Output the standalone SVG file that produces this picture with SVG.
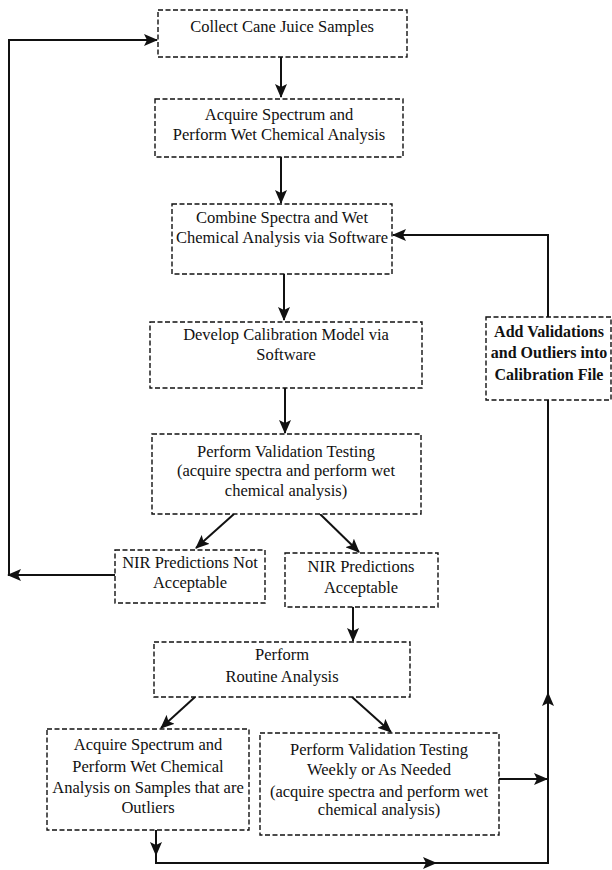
<svg xmlns="http://www.w3.org/2000/svg" width="612" height="870" viewBox="0 0 612 870">
<style>
.box{fill:#fff;stroke:#111;stroke-width:1.4;stroke-dasharray:5 2.5}
.t{font-family:"Liberation Serif","Times New Roman",serif;font-size:16.5px;fill:#111;text-anchor:middle}
.b{font-weight:bold;font-size:16px}
.c{fill:none;stroke:#111;stroke-width:2}
</style>
<defs>
<marker id="ah" markerUnits="userSpaceOnUse" markerWidth="14" markerHeight="12" viewBox="0 0 14 12" refX="13" refY="6" orient="auto">
<path d="M0,0 L14,6 L0,12 L3,6 z" fill="#111"/>
</marker>
</defs>
<rect width="612" height="870" fill="#fff"/>
<g id="connectors">
<path class="c" d="M281,57 V97" marker-end="url(#ah)"/>
<path class="c" d="M281,157 V203" marker-end="url(#ah)"/>
<path class="c" d="M284,274 V320" marker-end="url(#ah)"/>
<path class="c" d="M285,388 V433" marker-end="url(#ah)"/>
<path class="c" d="M234,514 L196,548" marker-end="url(#ah)"/>
<path class="c" d="M320,514 L359,552" marker-end="url(#ah)"/>
<path class="c" d="M353,607 V641" marker-end="url(#ah)"/>
<path class="c" d="M195,697 L161,728" marker-end="url(#ah)"/>
<path class="c" d="M352,697 L391,732" marker-end="url(#ah)"/>
<path class="c" d="M115,575 H8" marker-end="url(#ah)"/>
<path class="c" d="M9,575 V40 H157" marker-end="url(#ah)"/>
<path class="c" d="M548,317 V235 H393" marker-end="url(#ah)"/>
<path class="c" d="M499,779 H547" marker-end="url(#ah)"/>
<path class="c" d="M156,830 V855" marker-end="url(#ah)"/>
<path class="c" d="M156,855 V863 H436" marker-end="url(#ah)"/>
<path class="c" d="M436,863 H548 V693" marker-end="url(#ah)"/>
<path class="c" d="M548,693 V400"/>
</g>
<g id="n1"><rect class="box" x="158" y="10" width="249" height="47"/><text class="t" x="282" y="32">Collect Cane Juice Samples</text></g>
<g id="n2"><rect class="box" x="155" y="99" width="248" height="58"/><text class="t" x="279" y="120">Acquire Spectrum and</text><text class="t" x="279" y="140">Perform Wet Chemical Analysis</text></g>
<g id="n3"><rect class="box" x="172" y="204" width="220" height="70"/><text class="t" x="282" y="223">Combine Spectra and Wet</text><text class="t" x="282" y="243">Chemical Analysis via Software</text></g>
<g id="n4"><rect class="box" x="150" y="322" width="272" height="66"/><text class="t" x="286" y="340">Develop Calibration Model via</text><text class="t" x="286" y="360">Software</text></g>
<g id="n5"><rect class="box" x="152" y="434" width="269" height="80"/><text class="t" x="286" y="457">Perform Validation Testing</text><text class="t" x="286" y="476">(acquire spectra and perform wet</text><text class="t" x="286" y="496">chemical analysis)</text></g>
<g id="n6"><rect class="box" x="115" y="550" width="150" height="53"/><text class="t" x="190" y="568">NIR Predictions Not</text><text class="t" x="190" y="588">Acceptable</text></g>
<g id="n7"><rect class="box" x="285" y="553" width="153" height="54"/><text class="t" x="361" y="572">NIR Predictions</text><text class="t" x="361" y="593">Acceptable</text></g>
<g id="n8"><rect class="box" x="154" y="642" width="256" height="55"/><text class="t" x="282" y="660">Perform</text><text class="t" x="282" y="682">Routine Analysis</text></g>
<g id="n9"><rect class="box" x="47" y="729" width="202" height="101"/><text class="t" x="148" y="750">Acquire Spectrum and</text><text class="t" x="148" y="772">Perform Wet Chemical</text><text class="t" x="148" y="793">Analysis on Samples that are</text><text class="t" x="148" y="813">Outliers</text></g>
<g id="n10"><rect class="box" x="260" y="733" width="239" height="102"/><text class="t" x="379" y="755">Perform Validation Testing</text><text class="t" x="379" y="775">Weekly or As Needed</text><text class="t" x="379" y="797">(acquire spectra and perform wet</text><text class="t" x="379" y="815">chemical analysis)</text></g>
<g id="n11"><rect class="box" x="486" y="317" width="125" height="83"/><text class="t b" x="549" y="337">Add Validations</text><text class="t b" x="549" y="358">and Outliers into</text><text class="t b" x="549" y="380">Calibration File</text></g>
</svg>
